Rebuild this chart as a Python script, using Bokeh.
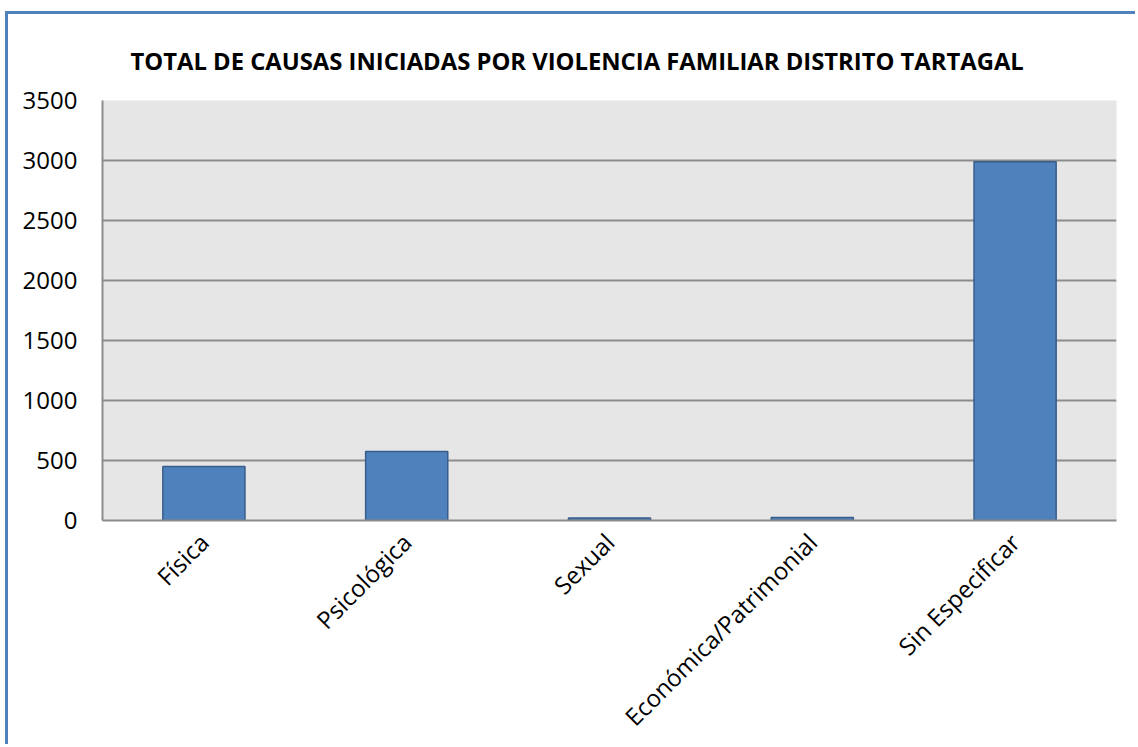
import math
from bokeh.plotting import figure
from bokeh.models import ColumnDataSource, FixedTicker, Range1d
from bokeh.embed import file_html
from bokeh.resources import INLINE

categories = ["Física", "Psicológica", "Sexual", "Económica/Patrimonial", "Sin Especificar"]
values = [450, 575, 20, 25, 2990]
y_ticks = [0, 500, 1000, 1500, 2000, 2500, 3000, 3500]

src = ColumnDataSource(dict(cat=categories, val=values))

p = figure(x_range=categories, y_range=Range1d(0, 3500), width=1130, height=733,
           output_backend="svg", toolbar_location=None,
           title="TOTAL DE CAUSAS INICIADAS POR VIOLENCIA FAMILIAR DISTRITO TARTAGAL",
           min_border_left=94, min_border_right=22, min_border_top=86, min_border_bottom=213)

p.styles = {"border-left": "3px solid #4F81BD", "border-top": "3px solid #4F81BD",
            "margin-left": "5px", "margin-top": "11px"}

p.vbar(x="cat", top="val", width=0.405, source=src, fill_color="#4F81BD",
       line_color="#385D8A", line_width=1.5)

p.background_fill_color = "#E6E6E6"
p.border_fill_color = "white"
p.outline_line_color = None

p.title.text_font = "Open Sans"
p.title.text_font_size = "23.8px"
p.title.text_font_style = "bold"
p.title.text_color = "black"
p.title.align = "left"
p.title.offset = 28
p.title.standoff = 48

p.yaxis.ticker = FixedTicker(ticks=y_ticks)
p.yaxis.major_label_text_font = "Open Sans"
p.yaxis.major_label_text_font_size = "24px"
p.yaxis.major_label_text_color = "black"
p.yaxis.major_tick_line_color = None
p.yaxis.minor_tick_line_color = None
p.yaxis.axis_line_color = "#8C8C8C"
p.yaxis.axis_line_width = 2
p.yaxis.major_label_standoff = 19

p.xaxis.major_label_orientation = math.pi / 4
p.xaxis.major_label_text_font = "Open Sans"
p.xaxis.major_label_text_font_size = "24px"
p.xaxis.major_label_text_color = "black"
p.xaxis.major_tick_line_color = None
p.xaxis.axis_line_color = "#8C8C8C"
p.xaxis.axis_line_width = 2
p.xaxis.major_label_standoff = 11

p.xgrid.grid_line_color = None
p.ygrid.grid_line_color = "#8C8C8C"
p.ygrid.grid_line_width = 2
p.x_range.range_padding = 0

open("out.html", "w").write(file_html(p, INLINE))
